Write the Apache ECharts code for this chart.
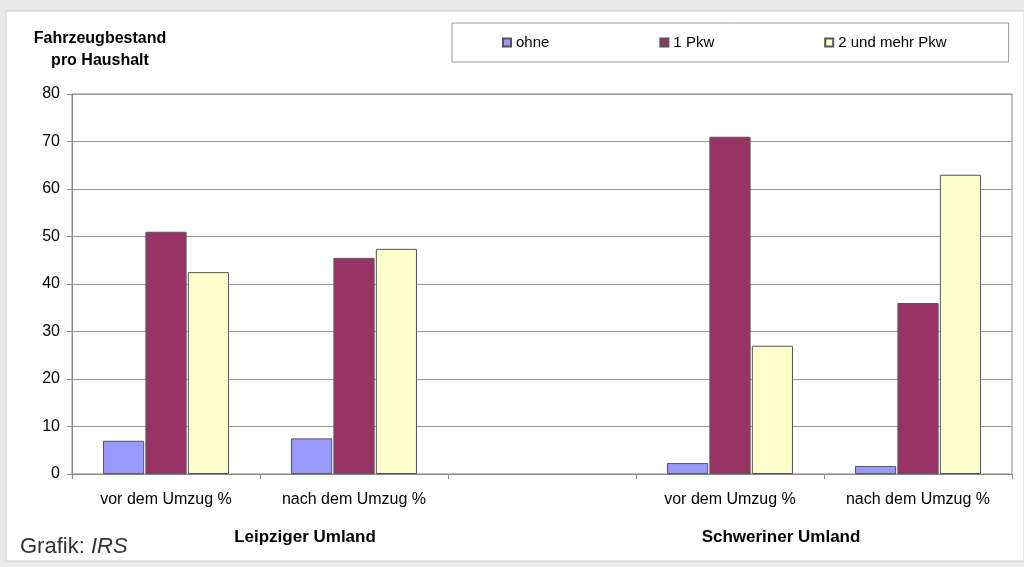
<!DOCTYPE html>
<html>
<head>
<meta charset="utf-8">
<script src="https://cdn.jsdelivr.net/npm/echarts@6/dist/echarts.min.js"></script>
<style>
  html, body { margin: 0; padding: 0; background: #e9e9e9; }
  #main { width: 1024px; height: 567px; }
</style>
</head>
<body>
<div id="main"></div>
<script>
const categories = ['vor dem Umzug %', 'nach dem Umzug %', '', 'vor dem Umzug %', 'nach dem Umzug %'];
const groupLabels = ['Leipziger Umland', 'Schweriner Umland'];
const ohne = [7, 7.5, null, 2.3, 1.7];
const einPkw = [51, 45.5, null, 71, 36];
const zweiPkw = [42.5, 47.4, null, 27, 63];

const font = 'Arial, "Liberation Sans", sans-serif';
const chart = echarts.init(document.getElementById('main'));

const barStyle = (color) => ({ color: color, borderColor: '#555', borderWidth: 1 });

chart.setOption({
  animation: false,
  textStyle: { fontFamily: font },
  graphic: [
    {
      type: 'rect', z: -10, silent: true,
      shape: { x: 6, y: 11, width: 1018, height: 550 },
      style: { fill: '#fff', stroke: '#d0d0d0', lineWidth: 1 }
    },
    {
      type: 'text', x: 305, y: 537,
      style: { text: groupLabels[0], font: 'bold 17px ' + font, fill: '#000', align: 'center', verticalAlign: 'middle' }
    },
    {
      type: 'text', x: 781, y: 537,
      style: { text: groupLabels[1], font: 'bold 17px ' + font, fill: '#000', align: 'center', verticalAlign: 'middle' }
    },
    {
      type: 'text', x: 20, y: 547,
      style: {
        text: '{a|Grafik: }{b|IRS}',
        verticalAlign: 'middle',
        rich: {
          a: { fontSize: 22, fontFamily: font, fill: '#333' },
          b: { fontSize: 22, fontFamily: font, fontStyle: 'italic', fill: '#333' }
        }
      }
    }
  ],
  title: {
    text: 'Fahrzeugbestand\npro Haushalt',
    left: 95, top: 23, textAlign: 'center',
    textStyle: { fontSize: 16, fontWeight: 'bold', color: '#000', lineHeight: 22, fontFamily: font }
  },
  legend: {
    left: 452, top: 23,
    padding: [12, 62, 12, 50],
    itemGap: 110,
    icon: 'rect',
    itemWidth: 8, itemHeight: 8,
    borderColor: '#999', borderWidth: 1,
    backgroundColor: '#fff',
    textStyle: { fontSize: 15, color: '#000', fontFamily: font },
    data: ['ohne', '1 Pkw', '2 und mehr Pkw']
  },
  grid: { left: 72, right: 12, top: 94, bottom: 93, show: true, borderColor: '#888', borderWidth: 1 },
  xAxis: {
    type: 'category',
    data: categories,
    axisLine: { lineStyle: { color: '#888' } },
    axisTick: { show: true, length: 5, lineStyle: { color: '#888' } },
    axisLabel: { color: '#000', fontSize: 16, margin: 18, interval: 0 }
  },
  yAxis: {
    type: 'value', min: 0, max: 80, interval: 10,
    axisLine: { show: true, lineStyle: { color: '#888' } },
    axisTick: { show: true, length: 5, lineStyle: { color: '#888' } },
    axisLabel: { color: '#000', fontSize: 16, margin: 12 },
    splitLine: { lineStyle: { color: '#999' } }
  },
  series: [
    { name: 'ohne', type: 'bar', data: ohne, barGap: '3%', barCategoryGap: '33%', itemStyle: barStyle('#9999ff') },
    { name: '1 Pkw', type: 'bar', data: einPkw, itemStyle: barStyle('#993366') },
    { name: '2 und mehr Pkw', type: 'bar', data: zweiPkw, itemStyle: barStyle('#ffffcc') }
  ]
});
</script>
</body>
</html>
